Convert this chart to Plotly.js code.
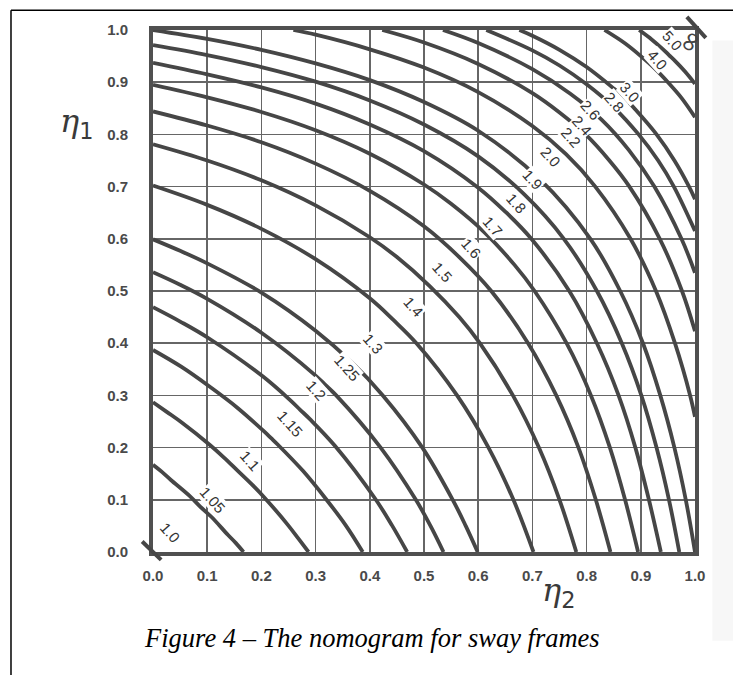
<!DOCTYPE html>
<html>
<head>
<meta charset="utf-8">
<script src="https://cdn.plot.ly/plotly-3.0.1.min.js"></script>
<style>html,body{margin:0;padding:0;background:#fff}#chart{width:733px;height:675px}</style>
</head>
<body>
<div id="chart"></div>
<script>
// ---- axis ticks ----
const tickValues = [0, 0.1, 0.2, 0.3, 0.4, 0.5, 0.6, 0.7, 0.8, 0.9, 1.0];
const tickLabels = ['0.0','0.1','0.2','0.3','0.4','0.5','0.6','0.7','0.8','0.9','1.0'];

// ---- curve labels (effective length factor) ----
const curveNames = ['1.05','1.1','1.15','1.2','1.25','1.3','1.4','1.5','1.6','1.7','1.8','1.9','2.0','2.2','2.4','2.6','2.8','3.0','4.0','5.0'];

// ---- curves: eta2 (x) and eta1 (y) ----
const eta2_105 = [0,0.017,0.033,0.067,0.087,0.108,0.138,0.153,0.167];
const eta1_105 = [0.167,0.153,0.138,0.108,0.087,0.067,0.033,0.017,0];
const eta2_110 = [0,0.026,0.053,0.105,0.131,0.156,0.181,0.205,0.248,0.268,0.287];
const eta1_110 = [0.287,0.268,0.248,0.205,0.181,0.156,0.131,0.105,0.053,0.026,0];
const eta2_115 = [0,0.052,0.103,0.155,0.206,0.218,0.230,0.277,0.318,0.355,0.387];
const eta1_115 = [0.387,0.355,0.318,0.277,0.230,0.218,0.206,0.155,0.103,0.052,0];
const eta2_120 = [0,0.051,0.102,0.203,0.254,0.272,0.290,0.336,0.410,0.441,0.469];
const eta1_120 = [0.469,0.441,0.410,0.336,0.290,0.272,0.254,0.203,0.102,0.051,0];
const eta2_125 = [0,0.05,0.1,0.2,0.3,0.319,0.338,0.420,0.485,0.512,0.536];
const eta1_125 = [0.536,0.512,0.485,0.420,0.338,0.319,0.3,0.2,0.1,0.05,0];
const eta2_130 = [0,0.05,0.1,0.2,0.3,0.365,0.424,0.497,0.553,0.577,0.599];
const eta1_130 = [0.599,0.577,0.553,0.497,0.424,0.365,0.3,0.2,0.1,0.05,0];
const eta2_140 = [0,0.1,0.2,0.3,0.4,0.444,0.486,0.561,0.619,0.665,0.702];
const eta1_140 = [0.702,0.665,0.619,0.561,0.486,0.444,0.4,0.3,0.2,0.1,0];
const eta2_150 = [0,0.1,0.2,0.3,0.4,0.45,0.51,0.565,0.603,0.664,0.712,0.750,0.781];
const eta1_150 = [0.781,0.750,0.712,0.664,0.603,0.565,0.51,0.45,0.4,0.3,0.2,0.1,0];
const eta2_160 = [0,0.1,0.2,0.3,0.4,0.5,0.565,0.624,0.692,0.744,0.785,0.817,0.844];
const eta1_160 = [0.844,0.817,0.785,0.744,0.692,0.624,0.565,0.5,0.4,0.3,0.2,0.1,0];
const eta2_170 = [0,0.1,0.2,0.3,0.4,0.5,0.55,0.612,0.667,0.704,0.763,0.808,0.843,0.871,0.895];
const eta1_170 = [0.895,0.871,0.843,0.808,0.763,0.704,0.667,0.612,0.55,0.5,0.4,0.3,0.2,0.1,0];
const eta2_180 = [0,0.1,0.2,0.3,0.4,0.5,0.6,0.651,0.698,0.768,0.819,0.859,0.890,0.915,0.937];
const eta1_180 = [0.937,0.915,0.890,0.859,0.819,0.768,0.698,0.651,0.6,0.5,0.4,0.3,0.2,0.1,0];
const eta2_190 = [0,0.1,0.2,0.3,0.4,0.5,0.6,0.685,0.758,0.819,0.865,0.901,0.929,0.952,0.971];
const eta1_190 = [0.971,0.952,0.929,0.901,0.865,0.819,0.758,0.685,0.6,0.5,0.4,0.3,0.2,0.1,0];
const eta2_200 = [0,0.1,0.2,0.3,0.4,0.5,0.6,0.714,0.807,0.862,0.904,0.936,0.962,0.983,1];
const eta1_200 = [1,0.983,0.962,0.936,0.904,0.862,0.807,0.714,0.6,0.5,0.4,0.3,0.2,0.1,0];
const eta2_220 = [0.259,0.3,0.4,0.5,0.6,0.7,0.762,0.816,0.881,0.928,0.963,0.991,1];
const eta1_220 = [1,0.991,0.963,0.928,0.881,0.816,0.762,0.7,0.6,0.5,0.4,0.3,0.259];
const eta2_240 = [0.423,0.5,0.6,0.7,0.75,0.799,0.842,0.879,0.935,0.976,1];
const eta1_240 = [1,0.976,0.935,0.879,0.842,0.799,0.75,0.7,0.6,0.5,0.423];
const eta2_260 = [0.535,0.6,0.7,0.77,0.828,0.878,0.925,0.975,1];
const eta1_260 = [1,0.975,0.925,0.878,0.828,0.77,0.7,0.6,0.535];
const eta2_280 = [0.615,0.7,0.75,0.8,0.851,0.896,0.932,0.961,1];
const eta1_280 = [1,0.961,0.932,0.896,0.851,0.8,0.75,0.7,0.615];
const eta2_300 = [0.676,0.7,0.75,0.8,0.85,0.87,0.888,0.929,0.962,0.989,1];
const eta1_300 = [1,0.989,0.962,0.929,0.888,0.87,0.85,0.8,0.75,0.7,0.676];
const eta2_400 = [0.833,0.87,0.9,0.926,0.950,0.975,1];
const eta1_400 = [1,0.975,0.950,0.926,0.9,0.87,0.833];
const eta2_500 = [0.897,0.92,0.94,0.952,0.964,0.982,1];
const eta1_500 = [1,0.982,0.964,0.952,0.94,0.92,0.897];

// limiting marks: 1.0 at the origin, infinity at the far corner
const mark10_eta2 = [-0.02, 0.015];
const mark10_eta1 = [0.02, -0.015];
const markInf_eta2 = [0.985, 1.02];
const markInf_eta1 = [1.025, 0.985];
const infLabelPos = [1.032, 1.018];

// label positions along the curves (eta2, eta1)
const labelText = ['1.0','1.05','1.1','1.15','1.2','1.25','1.3','1.4','1.5','1.6','1.7','1.8','1.9','2.0','2.2','2.4','2.6','2.8','3.0','4.0','5.0'];
const labelEta2 = [0.032,0.109,0.179,0.253,0.302,0.358,0.406,0.48,0.535,0.588,0.627,0.671,0.70,0.733,0.772,0.792,0.808,0.852,0.88,0.93,0.958];
const labelEta1 = [0.038,0.10,0.176,0.247,0.31,0.354,0.40,0.47,0.536,0.582,0.623,0.668,0.713,0.757,0.795,0.818,0.846,0.862,0.88,0.943,0.98];

const xs = [eta2_105,eta2_110,eta2_115,eta2_120,eta2_125,eta2_130,eta2_140,eta2_150,eta2_160,eta2_170,eta2_180,eta2_190,eta2_200,eta2_220,eta2_240,eta2_260,eta2_280,eta2_300,eta2_400,eta2_500];
const ys = [eta1_105,eta1_110,eta1_115,eta1_120,eta1_125,eta1_130,eta1_140,eta1_150,eta1_160,eta1_170,eta1_180,eta1_190,eta1_200,eta1_220,eta1_240,eta1_260,eta1_280,eta1_300,eta1_400,eta1_500];

const curveColor = '#464646';
const traces = xs.map((x, i) => ({
  type: 'scatter', mode: 'lines', x: x, y: ys[i], name: curveNames[i],
  line: {color: curveColor, width: 3.8, shape: 'spline', smoothing: 1},
  hoverinfo: 'name', showlegend: false
}));

const annotations = labelText.map((t, i) => ({
  x: labelEta2[i], y: labelEta1[i], xref: 'x', yref: 'y', text: t, showarrow: false,
  textangle: 48, font: {family: 'Liberation Sans, Arial, sans-serif', size: 15, color: '#333'},
  bgcolor: '#ffffff', borderpad: 0
}));
// infinity label (paper coordinates coincide with the 0..1 data axes)
annotations.push({x: infLabelPos[0], y: infLabelPos[1], xref: 'paper', yref: 'paper', text: '∞', showarrow: false, textangle: -60,
  font: {family: 'DejaVu Sans, sans-serif', size: 28, color: '#444'}});
annotations.push({x: -0.175, y: 0.865, xref: 'paper', yref: 'paper',
  text: '<span style="font-family:DejaVu Serif;font-style:italic">η</span><sub>1</sub>', showarrow: false,
  font: {family: 'DejaVu Sans, sans-serif', size: 32, color: '#3a3a3a'}});
annotations.push({x: 0.782, y: -0.12, xref: 'paper', yref: 'paper',
  text: '<span style="font-family:DejaVu Serif;font-style:italic">η</span><sub>2</sub>', showarrow: false,
  font: {family: 'DejaVu Sans, sans-serif', size: 32, color: '#3a3a3a'}});
annotations.push({x: 0.404, y: -0.198, xref: 'paper', yref: 'paper', text: 'Figure 4 – The nomogram for sway frames', showarrow: false,
  font: {family: 'Liberation Serif, Times New Roman, serif', size: 26.5, color: '#000', style: 'italic'}});

const shapes = [
  {type: 'rect', xref: 'paper', yref: 'paper', x0: 1.032, x1: 1.075, y0: 0.98, y1: -0.17, line: {width: 0}, fillcolor: '#f7f7f7', layer: 'below'},
  {type: 'line', xref: 'paper', yref: 'paper', x0: -0.262, x1: 1.08, y0: 1.038, y1: 1.038, line: {color: '#000', width: 1.5}},
  {type: 'line', xref: 'paper', yref: 'paper', x0: -0.262, x1: -0.262, y0: 1.038, y1: -0.25, line: {color: '#000', width: 1.5}},
  {type: 'line', xref: 'paper', yref: 'paper', x0: mark10_eta2[0], x1: mark10_eta2[1], y0: mark10_eta1[0], y1: mark10_eta1[1], line: {color: curveColor, width: 4}},
  {type: 'line', xref: 'paper', yref: 'paper', x0: markInf_eta2[0], x1: markInf_eta2[1], y0: markInf_eta1[0], y1: markInf_eta1[1], line: {color: curveColor, width: 4}}
];

const axisCommon = {
  range: [0, 1], tickvals: tickValues, ticktext: tickLabels, showgrid: true,
  gridcolor: '#666666', gridwidth: 1.7, showline: true, mirror: true, linecolor: '#505050', linewidth: 4,
  zeroline: false, ticks: '', fixedrange: true,
  tickfont: {family: 'Liberation Sans, Arial, sans-serif', size: 15, color: '#4a4a4a', weight: 'bold'}
};

const layout = {
  width: 733, height: 675,
  margin: {l: 153, r: 38, t: 30, b: 123, pad: 0},
  paper_bgcolor: '#fff', plot_bgcolor: '#fff',
  xaxis: Object.assign({}, axisCommon, {ticklabelstandoff: 7}),
  yaxis: Object.assign({}, axisCommon, {ticklabelstandoff: 18}),
  annotations: annotations, shapes: shapes, showlegend: false
};

Plotly.newPlot('chart', traces, layout, {staticPlot: true, displayModeBar: false});
</script>
</body>
</html>
